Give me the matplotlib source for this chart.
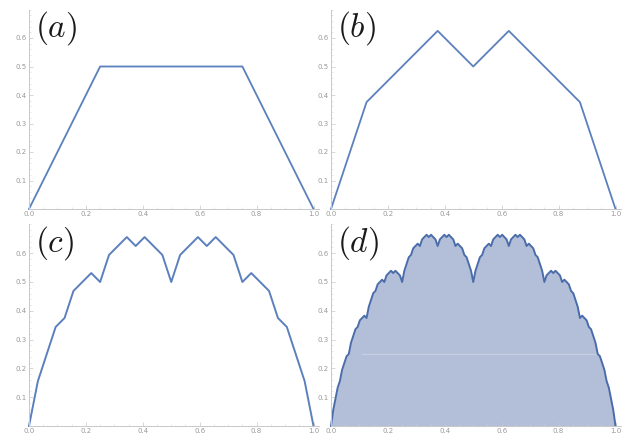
import numpy as np
import matplotlib
matplotlib.use("Agg")
import matplotlib.pyplot as plt
from matplotlib.ticker import MultipleLocator

plt.rcParams.update({"mathtext.fontset": "cm", "font.size": 5})

# (a) vertices
a_x = [0.0, 0.25, 0.75, 1.0]
a_y = [0.0, 0.5, 0.5, 0.0]

# (b) vertices
b_x = [0.0, 0.125, 0.375, 0.5, 0.625, 0.875, 1.0]
b_y = [0.0, 0.375, 0.625, 0.5, 0.625, 0.375, 0.0]

# (c) vertices, step 1/32
c_x = np.linspace(0, 1, 33)
c_y = [0.0, 0.156, 0.25, 0.344, 0.375, 0.469, 0.5, 0.531, 0.5,
       0.594, 0.625, 0.656, 0.625, 0.656, 0.625, 0.594, 0.5,
       0.594, 0.625, 0.656, 0.625, 0.656, 0.625, 0.594, 0.5,
       0.531, 0.5, 0.469, 0.375, 0.344, 0.25, 0.156, 0.0]

# (d) sampled curve, step 1/128
d_x = np.linspace(0, 1, 129)
d_y = [0.0, 0.055, 0.094, 0.133, 0.156, 0.195, 0.219, 0.242,
       0.25, 0.289, 0.312, 0.336, 0.344, 0.367, 0.375, 0.383,
       0.375, 0.414, 0.438, 0.461, 0.469, 0.492, 0.5, 0.508,
       0.5, 0.523, 0.531, 0.539, 0.531, 0.539, 0.531, 0.523,
       0.5, 0.539, 0.562, 0.586, 0.594, 0.617, 0.625, 0.633,
       0.625, 0.648, 0.656, 0.664, 0.656, 0.664, 0.656, 0.648,
       0.625, 0.648, 0.656, 0.664, 0.656, 0.664, 0.656, 0.648,
       0.625, 0.633, 0.625, 0.617, 0.594, 0.586, 0.562, 0.539,
       0.5,
       0.539, 0.562, 0.586, 0.594, 0.617, 0.625, 0.633, 0.625,
       0.648, 0.656, 0.664, 0.656, 0.664, 0.656, 0.648, 0.625,
       0.648, 0.656, 0.664, 0.656, 0.664, 0.656, 0.648, 0.625,
       0.633, 0.625, 0.617, 0.594, 0.586, 0.562, 0.539, 0.5,
       0.523, 0.531, 0.539, 0.531, 0.539, 0.531, 0.523, 0.5,
       0.508, 0.5, 0.492, 0.469, 0.461, 0.438, 0.414, 0.375,
       0.383, 0.375, 0.367, 0.344, 0.336, 0.312, 0.289, 0.25,
       0.242, 0.219, 0.195, 0.156, 0.133, 0.094, 0.055, 0.0]

labels = ["a", "b", "c", "d"]
line_color = "#5b80bd"

W, H = 634, 434
fig = plt.figure(figsize=(W / 100, H / 100), dpi=100)

# left px, y=0 px from top, px per 0.1
frames = [(29, 209, 28.5), (331, 209, 28.5), (29, 426, 28.8), (331, 426, 28.8)]
xspan = 284.5
xmax = 1.02
ymax = 0.7

axes = []
for (left, y0, per) in frames:
    ax = fig.add_axes([left / W, (H - y0) / H, xspan * xmax / W, per * ymax * 10 / H])
    ax.set_xlim(0, xmax)
    ax.set_ylim(0, ymax)
    for s in ["top", "right"]:
        ax.spines[s].set_visible(False)
    for s in ["left", "bottom"]:
        ax.spines[s].set_color("#c8c8c8")
        ax.spines[s].set_linewidth(0.7)
    ax.set_xticks([0, 0.2, 0.4, 0.6, 0.8, 1.0])
    ax.set_xticklabels(["0.0", "0.2", "0.4", "0.6", "0.8", "1.0"])
    ax.set_yticks([0.1, 0.2, 0.3, 0.4, 0.5, 0.6])
    ax.xaxis.set_minor_locator(MultipleLocator(0.05))
    ax.yaxis.set_minor_locator(MultipleLocator(0.02))
    ax.tick_params(which="major", direction="in", length=3, width=0.5, color="#c8c8c8",
                   labelsize=5, labelcolor="#999999", pad=1.5)
    ax.tick_params(which="minor", direction="in", length=1.5, width=0.4, color="#d4d4d4")
    ax.patch.set_alpha(0)
    axes.append(ax)

axes[0].plot(a_x, a_y, color=line_color, lw=1.3, clip_on=False)
axes[1].plot(b_x, b_y, color=line_color, lw=1.3, clip_on=False)
axes[2].plot(c_x, c_y, color=line_color, lw=1.4, clip_on=False)
axes[3].fill_between(d_x, 0, d_y, color="#b3bfd8", lw=0)
axes[3].plot([0.11, 0.94], [0.25, 0.25], color="#c6cfe2", lw=0.8)
axes[3].plot(d_x, d_y, color="#4a6cab", lw=1.4, clip_on=False)

for ax, lab in zip(axes, labels):
    ax.text(0.022, 0.635, "$(%s)$" % lab, fontsize=24, color="#1a1a1a",
            ha="left", va="center")

fig.savefig("out.png", dpi=100)
